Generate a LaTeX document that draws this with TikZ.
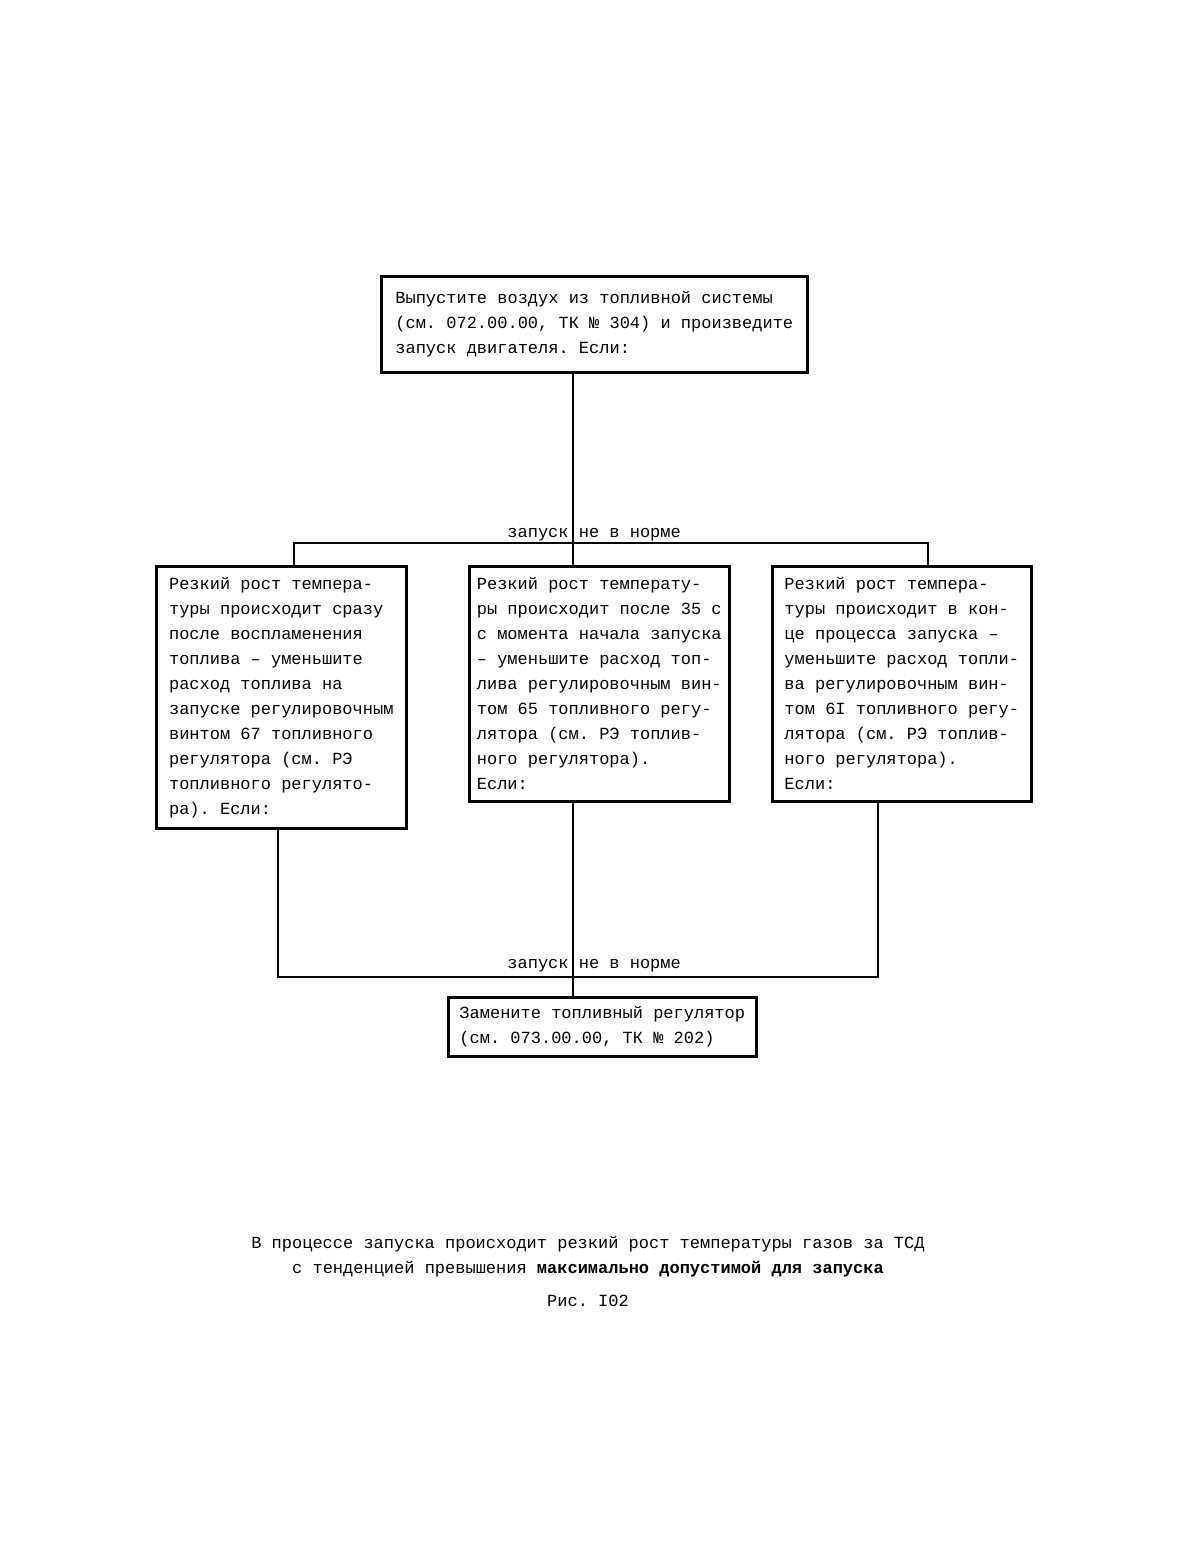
\documentclass[tikz,border=0pt]{standalone}
\usepackage{fontspec}
\setmainfont{Liberation Mono}
\usetikzlibrary{calc}

\begin{document}
\frenchspacing
\begin{tikzpicture}[x=0.5pt,y=-0.5pt,
    every node/.style={font=\fontsize{8.5}{12.5}\selectfont},
    box/.style={draw,line width=1.3pt,align=left,anchor=north west,inner sep=0pt},
    lbl/.style={anchor=base west,inner sep=0pt},
    link/.style={line width=1.3pt}]
        \useasboundingbox (0,0) rectangle (1196,1551);
        \node[box,minimum width=213pt,minimum height=48pt] (air) at (380,275)
            {Выпустите воздух из топливной системы\\(см. 072.00.00, ТК № 304) и произведите\\запуск двигателя. Если:};
        \node[box,minimum width=125pt,minimum height=131pt] (early) at (155,565)
            {Резкий рост темпера-\\туры происходит сразу\\после воспламенения\\топлива -- уменьшите\\расход топлива на\\запуске регулировочным\\винтом 67 топливного\\регулятора (см. РЭ\\топливного регулято-\\ра). Если:};
        \node[box,minimum width=130pt,minimum height=117.5pt] (mid) at (468,565)
            {Резкий рост температу-\\ры происходит после 35 с\\с момента начала запуска\\-- уменьшите расход топ-\\лива регулировочным вин-\\том 65 топливного регу-\\лятора (см. РЭ топлив-\\ного регулятора).\\Если:};
        \node[box,minimum width=129.5pt,minimum height=117.5pt] (late) at (771,565)
            {Резкий рост темпера-\\туры происходит в кон-\\це процесса запуска --\\уменьшите расход топли-\\ва регулировочным вин-\\том 6I топливного регу-\\лятора (см. РЭ топлив-\\ного регулятора).\\Если:};
        \node[box,minimum width=154pt,minimum height=29.5pt] (repl) at (447,996)
            {Замените топливный регулятор\\(см. 073.00.00, ТК № 202)};
        \node[lbl] (failA) at (507,537) {запуск не в норме};
        \node[lbl] (failB) at (507,968) {запуск не в норме};
        \node[align=center,anchor=north,inner sep=0pt] (cap) at (588,1236)
            {В процессе запуска происходит резкий рост температуры газов за ТСД\\
             с тенденцией превышения {\bfseries максимально допустимой для запуска}\\[4pt]
             Рис. I02};
        \coordinate (trunk) at (573,0);
        \coordinate (busTop) at (573,543);
        \coordinate (busBot) at (573,977);
        \coordinate (dropL) at (294,0);
        \coordinate (dropR) at (928,0);
        \coordinate (riseL) at (278,0);
        \coordinate (riseR) at (878,0);
        \draw[link] (air.south -| trunk) -- (mid.north -| trunk);
        \draw[link] (early.north -| dropL) |- (busTop) -| (late.north -| dropR);
        \draw[link] (early.south -| riseL) |- (busBot) -| (late.south -| riseR);
        \draw[link] (mid.south -| trunk) -- (repl.north -| trunk);
\end{tikzpicture}
\end{document}
